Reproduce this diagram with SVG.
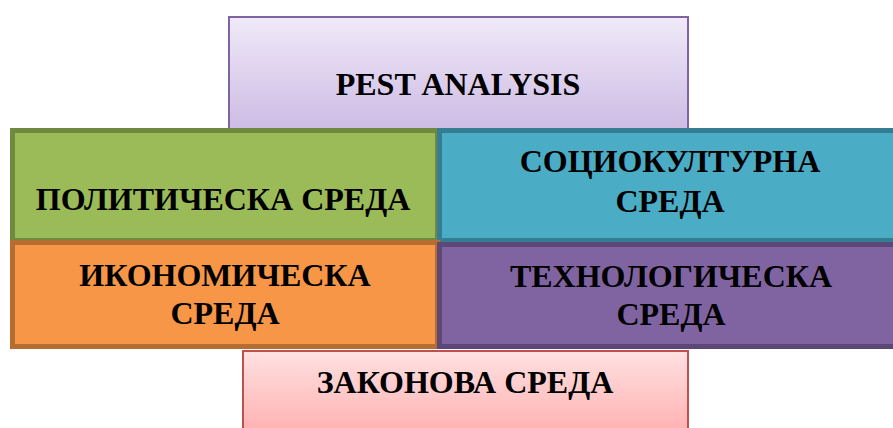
<svg xmlns="http://www.w3.org/2000/svg" width="893" height="428" viewBox="0 0 893 428">
<defs>
<linearGradient id="gTop" x1="0" y1="0" x2="0" y2="1">
<stop offset="0" stop-color="#F0EAF8"/>
<stop offset="1" stop-color="#CBB8E3"/>
</linearGradient>
<linearGradient id="gBot" x1="0" y1="0" x2="0" y2="1">
<stop offset="0" stop-color="#FFE1E1"/>
<stop offset="1" stop-color="#FFACAC"/>
</linearGradient>
</defs>
<style>
text{font-family:"Liberation Serif","Times New Roman",serif;font-weight:bold;font-size:32px;fill:#000;text-anchor:middle}
.box{stroke-width:5}
</style>
<rect width="893" height="428" fill="#fff"/>
<g id="pest">
<rect x="229" y="17" width="459" height="120" fill="url(#gTop)" stroke="#8064A2" stroke-width="2"/>
<text x="458" y="95">PEST ANALYSIS</text>
</g>
<g id="legal">
<rect x="243" y="351" width="445" height="90" fill="url(#gBot)" stroke="#C0504D" stroke-width="2"/>
<text x="465" y="393">ЗАКОНОВА СРЕДА</text>
</g>
<g id="political">
<rect class="box" x="12.5" y="130.5" width="425" height="110" fill="#9BBB59" stroke="#71893F"/>
<text x="223" y="210">ПОЛИТИЧЕСКА СРЕДА</text>
</g>
<g id="sociocultural">
<rect class="box" x="439.5" y="130.5" width="470" height="110" fill="#4BACC6" stroke="#357D92"/>
<text x="670" y="172">СОЦИОКУЛТУРНА</text>
<text x="670" y="212">СРЕДА</text>
</g>
<g id="economic">
<rect class="box" x="12.5" y="242.5" width="425" height="104" fill="#F79646" stroke="#B66D31"/>
<text x="225" y="286">ИКОНОМИЧЕСКА</text>
<text x="225" y="324">СРЕДА</text>
</g>
<g id="technological">
<rect class="box" x="439.5" y="244.5" width="470" height="102" fill="#8064A2" stroke="#5C4776"/>
<text x="671" y="287">ТЕХНОЛОГИЧЕСКА</text>
<text x="671" y="325">СРЕДА</text>
</g>
<g id="connectors"/>
</svg>
